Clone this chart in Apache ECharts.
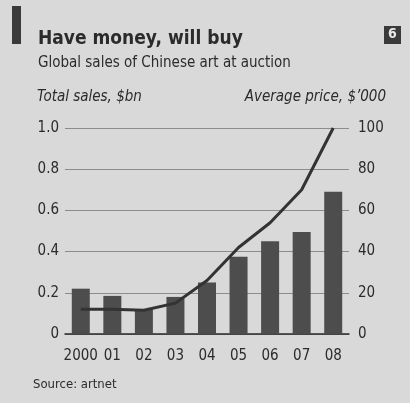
<!DOCTYPE html>
<html style="height: 100%">
<head>
<meta charset="utf-8">
</head>
<body style="height: 100%; margin: 0; background: #d9d9d9">
	<div id="container" style="width: 410px; height: 403px"></div>
	<script type="text/javascript" src="https://cdn.jsdelivr.net/npm/echarts@6/dist/echarts.min.js"></script>
	<script type="text/javascript">
		// data
		var years = ['2000', '01', '02', '03', '04', '05', '06', '07', '08'];
		var totalSales = [0.22, 0.185, 0.12, 0.18, 0.25, 0.375, 0.45, 0.495, 0.69]; // $bn
		var avgPrice = [12, 12, 11.5, 15, 26, 42, 54, 70, 100]; // $'000
		var leftTicks = [0, 0.2, 0.4, 0.6, 0.8, 1.0];
		var rightTicks = [0, 20, 40, 60, 80, 100];

		var font = '"DejaVu Sans Condensed", "DejaVu Sans", sans-serif';
		var ink = '#2b2b2b';

		var dom = document.getElementById("container");
		var myChart = echarts.init(dom, null, { renderer: 'canvas' });
		var option = {
			backgroundColor: '#d9d9d9',
			textStyle: { fontFamily: font },
			grid: { left: 65, right: 61, top: 128, bottom: 69 },
			graphic: [
				{ type: 'rect', left: 12, top: 6, shape: { width: 9, height: 38 }, style: { fill: '#3a3a3a' } },
				{ type: 'rect', left: 384, top: 26, shape: { width: 17, height: 18 }, style: { fill: '#3a3a3a' } },
				{ type: 'text', left: 388, top: 27, style: { text: '6', fill: '#e8e8e8', font: 'bold 14px ' + font } },
				{ type: 'text', left: 38, top: 30, style: { text: 'Have money, will buy', fill: ink, font: 'bold 19px ' + font } },
				{ type: 'text', left: 38, top: 56, style: { text: 'Global sales of Chinese art at auction', fill: ink, font: '15px ' + font } },
				{ type: 'text', left: 37, top: 90, style: { text: 'Total sales, $bn', fill: ink, font: 'italic 15px ' + font } },
				{ type: 'text', right: 24, top: 90, style: { text: 'Average price, $\u2019000', fill: ink, font: 'italic 15px ' + font } },
				{ type: 'text', left: 33, top: 378, style: { text: 'Source: artnet', fill: ink, font: '13px ' + font } }
			],
			xAxis: {
				type: 'category',
				data: years,
				axisLine: { lineStyle: { color: ink, width: 1.5 } },
				axisTick: { alignWithLabel: true, interval: 0, length: 10, lineStyle: { color: ink, width: 1.5 } },
				axisLabel: { color: ink, fontSize: 15, margin: 15, interval: 0 }
			},
			yAxis: [
				{
					type: 'value', min: leftTicks[0], max: leftTicks[leftTicks.length - 1], interval: 0.2,
					axisLine: { show: false }, axisTick: { show: false },
					axisLabel: {
						color: ink, fontSize: 15, margin: 6,
						formatter: function (v) { return v === 0 ? '0' : v.toFixed(1); }
					},
					splitLine: { lineStyle: { color: '#8c8c8c', width: 1 } }
				},
				{
					type: 'value', min: rightTicks[0], max: rightTicks[rightTicks.length - 1], interval: 20,
					axisLine: { show: false }, axisTick: { show: false },
					axisLabel: { color: ink, fontSize: 15, margin: 9 },
					splitLine: { show: false }
				}
			],
			series: [
				{
					name: 'Total sales',
					type: 'bar',
					data: totalSales,
					barWidth: 18,
					itemStyle: { color: '#4d4d4d' }
				},
				{
					name: 'Average price',
					type: 'line',
					yAxisIndex: 1,
					data: avgPrice,
					symbol: 'none',
					lineStyle: { color: '#333333', width: 3 }
				}
			]
		};
		myChart.setOption(option, true);
	</script>
</body>
</html>
